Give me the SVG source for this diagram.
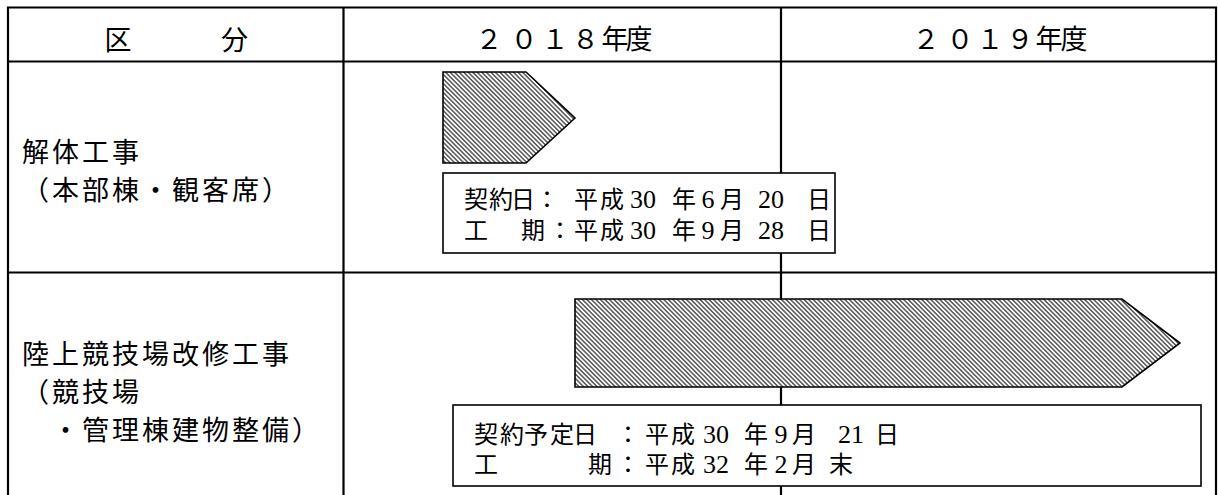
<svg xmlns="http://www.w3.org/2000/svg" width="1219" height="495" viewBox="0 0 1219 495">
<style>
.grid{stroke:#000;stroke-width:2.2;fill:none}
.bar{fill:url(#hatch);stroke:#000;stroke-width:1.6;stroke-linejoin:miter}
.box{fill:#fff;stroke:#000;stroke-width:1.6}
.hd{font-family:"Noto Sans CJK JP","Noto Sans CJK SC",sans-serif;font-size:27px;fill:#000}
.lbl{font-family:"Noto Sans CJK JP","Noto Sans CJK SC",sans-serif;font-size:27px;letter-spacing:3px;fill:#000}
.ln{fill:#000}
.cj{font-family:"Noto Sans CJK JP","Noto Sans CJK SC",sans-serif;font-size:24px}
.num{font-family:"Liberation Serif",serif;font-size:26px}
</style>
<defs>
<pattern id="hatch" patternUnits="userSpaceOnUse" width="3.2" height="3.2" patternTransform="rotate(-45)">
<rect x="0" y="0" width="3.2" height="3.2" fill="#fff"/>
<line x1="1.6" y1="-1" x2="1.6" y2="4.2" stroke="#000" stroke-width="1.0"/>
</pattern>
</defs>
<rect x="0" y="0" width="1219" height="495" fill="#fff"/>
<g id="grid">
<path class="grid" d="M8,495 V7.5 H1216 V495 M8,61.5 H1216 M8,272.5 H1216 M343.5,7.5 V495 M781,7.5 V495"/>
</g>
<g id="header">
<text class="hd" y="50"><tspan x="104.5">区</tspan><tspan x="221">分</tspan></text>
<text class="hd" y="49"><tspan x="475.5">２</tspan><tspan x="510.5">０</tspan><tspan x="541.5">１</tspan><tspan x="572">８</tspan><tspan x="601.5">年</tspan><tspan x="625.5">度</tspan></text>
<text class="hd" y="49"><tspan x="912.5">２</tspan><tspan x="946.5">０</tspan><tspan x="976.5">１</tspan><tspan x="1006.5">９</tspan><tspan x="1035.5">年</tspan><tspan x="1060.5">度</tspan></text>
</g>
<g id="row1-label">
<text class="lbl"><tspan x="22" y="162">解体工事</tspan><tspan x="22" y="200">（本部棟・観客席）</tspan></text>
</g>
<g id="row1-bar">
<path class="bar" d="M443,72 H526 L575,118 L526,163 H443 Z"/>
</g>
<g id="row1-box">
<rect class="box" x="443" y="173" width="392" height="80"/>
<text class="ln"><tspan class="cj" x="464" y="208">契</tspan><tspan class="cj" x="489">約</tspan><tspan class="cj" x="511">日</tspan><tspan class="cj" x="535">：</tspan><tspan class="cj" x="574">平</tspan><tspan class="cj" x="600">成</tspan><tspan class="num" x="630">30</tspan><tspan class="cj" x="672">年</tspan><tspan class="num" x="701.5">6</tspan><tspan class="cj" x="720">月</tspan><tspan class="num" x="758">20</tspan><tspan class="cj" x="807">日</tspan><tspan class="cj" x="464" y="239">工</tspan><tspan class="cj" x="521">期</tspan><tspan class="cj" x="548">：</tspan><tspan class="cj" x="574">平</tspan><tspan class="cj" x="600">成</tspan><tspan class="num" x="630">30</tspan><tspan class="cj" x="672">年</tspan><tspan class="num" x="701.5">9</tspan><tspan class="cj" x="720">月</tspan><tspan class="num" x="758">28</tspan><tspan class="cj" x="807">日</tspan></text>
</g>
<g id="row2-label">
<text class="lbl"><tspan x="22" y="364">陸上競技場改修工事</tspan><tspan x="22" y="402">（競技場</tspan><tspan x="52" y="440">・管理棟建物整備）</tspan></text>
</g>
<g id="row2-bar">
<path class="bar" d="M575,299 H1122 L1180,343 L1122,387 H575 Z"/>
</g>
<g id="row2-box">
<rect class="box" x="453" y="405" width="748" height="81"/>
<text class="ln"><tspan class="cj" x="474" y="443">契</tspan><tspan class="cj" x="500">約</tspan><tspan class="cj" x="524">予</tspan><tspan class="cj" x="550">定</tspan><tspan class="cj" x="573">日</tspan><tspan class="cj" x="616">：</tspan><tspan class="cj" x="645">平</tspan><tspan class="cj" x="671">成</tspan><tspan class="num" x="703">30</tspan><tspan class="cj" x="744">年</tspan><tspan class="num" x="774.5">9</tspan><tspan class="cj" x="792">月</tspan><tspan class="num" x="838">21</tspan><tspan class="cj" x="875">日</tspan><tspan class="cj" x="474" y="473">工</tspan><tspan class="cj" x="588">期</tspan><tspan class="cj" x="616">：</tspan><tspan class="cj" x="645">平</tspan><tspan class="cj" x="671">成</tspan><tspan class="num" x="703">32</tspan><tspan class="cj" x="744">年</tspan><tspan class="num" x="774.5">2</tspan><tspan class="cj" x="792">月</tspan><tspan class="cj" x="829">末</tspan></text>
</g>
</svg>
